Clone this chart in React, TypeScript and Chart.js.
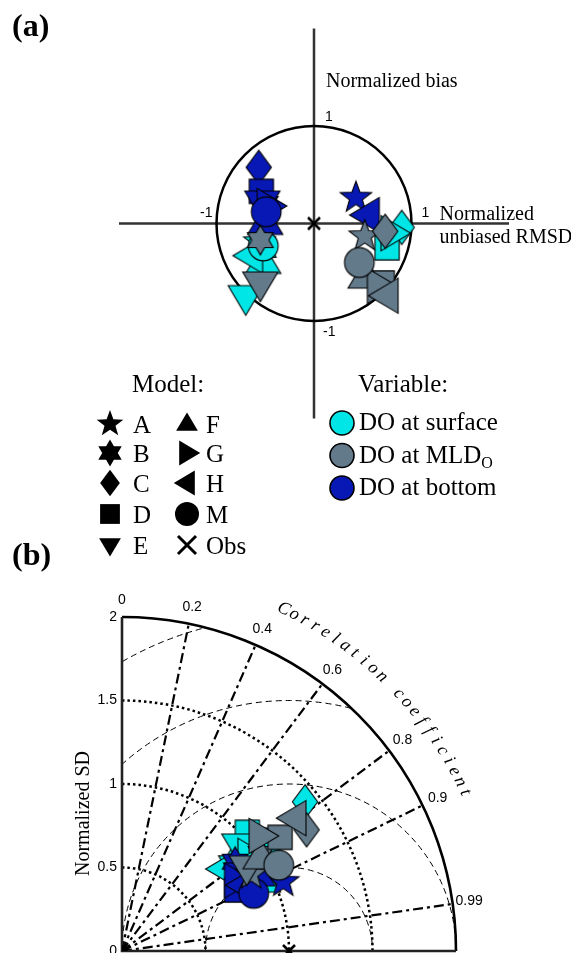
import React, { useEffect, useRef } from "react";
import { Chart, registerables } from "chart.js";

Chart.register(...registerables);

// ---------------- categories ----------------
const MODELS = ["A", "B", "C", "D", "E", "F", "G", "H", "M"];
const MODEL_SHAPES = ["star", "hexagram", "diamond", "square", "triDown", "triUp", "triRight", "triLeft", "circle"];
const VARIABLE_LABELS = ["DO at surface", "DO at MLD", "DO at bottom"];
const VARIABLE_COLORS = ["#00e6e6", "#637a8b", "#0818b4"];

// ---------------- (a) target diagram ----------------
// x: normalized unbiased RMSD, y: normalized bias (order A,B,C,D,E,F,G,H,M)
const TARGET_SURFACE_RMSD = [-0.56, -0.52, 0.9, 0.75, -0.7, -0.52, 0.8, -0.64, -0.52];
const TARGET_SURFACE_BIAS = [-0.19, -0.27, -0.04, -0.25, -0.75, -0.4, -0.1, -0.33, -0.23];
const TARGET_MLD_RMSD = [0.52, -0.55, 0.73, 0.7, -0.55, 0.53, 0.66, 0.75, 0.465];
const TARGET_MLD_BIAS = [-0.13, -0.17, -0.08, -0.61, -0.61, -0.55, -0.64, -0.74, -0.4];
const TARGET_BOTTOM_RMSD = [0.43, -0.5, -0.567, -0.54, -0.53, -0.5, -0.47, 0.557, -0.49];
const TARGET_BOTTOM_BIAS = [0.265, 0.2, 0.576, 0.33, 0.22, 0.0, 0.18, 0.087, 0.12];
const TARGET_OBS = [0, 0];
const TARGET_TICKS = [-1, 1];

// ---------------- (b) Taylor diagram ----------------
// normalized SD and correlation coefficient (order A,B,C,D,E,F,G,H,M)
const TAYLOR_SURFACE_SD = [0.88, 0.84, 1.414, 1.034, 0.947, 0.942, 0.95, 0.785, 1.08];
const TAYLOR_SURFACE_R = [0.8, 0.78, 0.775, 0.726, 0.742, 0.896, 0.8, 0.78, 0.8];
const TAYLOR_MLD_SD = [0.9, 1.015, 1.322, 1.166, 0.901, 1.0, 1.076, 1.306, 1.07];
const TAYLOR_MLD_R = [0.86, 0.82, 0.836, 0.812, 0.829, 0.83, 0.768, 0.793, 0.877];
const TAYLOR_BOTTOM_SD = [1.051, 0.863, 0.82, 0.778, 0.85, 0.931, 0.8, 0.83, 0.861];
const TAYLOR_BOTTOM_R = [0.919, 0.785, 0.86, 0.883, 0.84, 0.872, 0.85, 0.88, 0.916];
const TAYLOR_OBS = [1, 1]; // SD, correlation
const SD_TICKS = [0, 0.5, 1, 1.5, 2];
const SD_ARCS = [0.5, 1, 1.5];
const RMS_CIRCLES = [0.5, 1, 1.5, 2];
const CORR_TICKS = [0, 0.2, 0.4, 0.6, 0.8, 0.9, 0.99];

const SERIF = "'Liberation Serif', 'Times New Roman', serif";
const SANS = "'Liberation Sans', Arial, sans-serif";
const MARKER_SCALE = 1.1;

function tracePath(ctx: CanvasRenderingContext2D, shape: string, s: number) {
  ctx.beginPath();
  const poly = (pts: number[][]) => {
    ctx.moveTo(pts[0][0] * s, pts[0][1] * s);
    for (let i = 1; i < pts.length; i++) ctx.lineTo(pts[i][0] * s, pts[i][1] * s);
    ctx.closePath();
  };
  const starP = (n: number, ro: number, ri: number) => {
    const pts: number[][] = [];
    for (let i = 0; i < 2 * n; i++) {
      const a = -Math.PI / 2 + (i * Math.PI) / n;
      const rr = i % 2 === 0 ? ro : ri;
      pts.push([rr * Math.cos(a), rr * Math.sin(a)]);
    }
    poly(pts);
  };
  switch (shape) {
    case "circle":
      ctx.arc(0, 0, 13.5 * s, 0, Math.PI * 2);
      break;
    case "square":
      poly([[-11, -11], [11, -11], [11, 11], [-11, 11]]);
      break;
    case "diamond":
      poly([[0, -15.5], [11.5, 0], [0, 15.5], [-11.5, 0]]);
      break;
    case "star":
      starP(5, 15, 6.2);
      break;
    case "hexagram":
      starP(6, 13.5, 7.8);
      break;
    case "triDown":
      poly([[-16, -10], [16, -10], [0, 17]]);
      break;
    case "triUp":
      poly([[-16, 10], [16, 10], [0, -17]]);
      break;
    case "triRight":
      poly([[-10, -16], [-10, 16], [17, 0]]);
      break;
    case "triLeft":
      poly([[10, -16], [10, 16], [-17, 0]]);
      break;
  }
}

function makeMarker(shape: string, fill: string): HTMLCanvasElement {
  const c = document.createElement("canvas");
  c.width = 48;
  c.height = 48;
  const g = c.getContext("2d")!;
  g.translate(24, 24);
  tracePath(g, shape, MARKER_SCALE);
  g.fillStyle = fill;
  g.fill();
  g.lineWidth = 1.1;
  g.strokeStyle = "#000";
  g.stroke();
  return c;
}

function makeCross(h: number, lw: number): HTMLCanvasElement {
  const c = document.createElement("canvas");
  c.width = 30;
  c.height = 30;
  const g = c.getContext("2d")!;
  g.translate(15, 15);
  g.strokeStyle = "#000";
  g.lineWidth = lw;
  g.beginPath();
  g.moveTo(-h, -h);
  g.lineTo(h, h);
  g.moveTo(h, -h);
  g.lineTo(-h, h);
  g.stroke();
  return c;
}

const LEGEND_SCALE: Record<string, number> = {
  star: 0.93, hexagram: 1, diamond: 0.86, square: 0.9, triDown: 0.68, triUp: 0.68,
  triRight: 0.78, triLeft: 0.78, circle: 0.89,
};

function drawBlackSymbol(ctx: CanvasRenderingContext2D, shape: string, x: number, y: number) {
  ctx.save();
  ctx.translate(x, y);
  if (shape === "x") {
    ctx.strokeStyle = "#000";
    ctx.lineWidth = 3;
    ctx.beginPath();
    ctx.moveTo(-9, -9);
    ctx.lineTo(9, 9);
    ctx.moveTo(9, -9);
    ctx.lineTo(-9, 9);
    ctx.stroke();
  } else {
    tracePath(ctx, shape, LEGEND_SCALE[shape] || 1);
    ctx.fillStyle = "#000";
    ctx.fill();
  }
  ctx.restore();
}

const targetPlugin = {
  id: "targetDecor",
  beforeDatasetsDraw(chart: any) {
    const { ctx } = chart;
    const px = (v: number) => chart.scales.x.getPixelForValue(v);
    const py = (v: number) => chart.scales.y.getPixelForValue(v);
    const cx = px(0), cy = py(0), R = px(1) - cx;
    ctx.save();
    ctx.strokeStyle = "#333";
    ctx.lineWidth = 2.5;
    ctx.beginPath();
    ctx.moveTo(px(-2), cy);
    ctx.lineTo(px(2), cy);
    ctx.moveTo(cx, py(2));
    ctx.lineTo(cx, py(-2));
    ctx.stroke();
    ctx.strokeStyle = "#000";
    ctx.lineWidth = 2.5;
    ctx.beginPath();
    ctx.arc(cx, cy, R, 0, Math.PI * 2);
    ctx.stroke();

    ctx.fillStyle = "#000";
    ctx.font = `14px ${SANS}`;
    ctx.textBaseline = "middle";
    const [tneg, tpos] = TARGET_TICKS;
    ctx.textAlign = "left";
    ctx.fillText(String(tpos), cx + 11, py(tpos) - 9);
    ctx.fillText(String(tpos), px(tpos) + 10, cy - 10);
    ctx.fillText(String(tneg), cx + 9, py(tneg) + 11);
    ctx.textAlign = "right";
    ctx.fillText(String(tneg), px(tneg) - 4, cy - 10);

    ctx.font = `20px ${SERIF}`;
    ctx.textAlign = "left";
    ctx.textBaseline = "alphabetic";
    ctx.fillText("Normalized bias", cx + 12, py(2) + 58);
    ctx.fillText("Normalized", px(1) + 28, cy - 4);
    ctx.fillText("unbiased RMSD", px(1) + 28, cy + 19);
    ctx.restore();
  },
  afterDraw(chart: any) {
    const { ctx } = chart;
    ctx.save();
    ctx.fillStyle = "#000";
    ctx.font = `bold 32px ${SERIF}`;
    ctx.textAlign = "left";
    ctx.textBaseline = "alphabetic";
    ctx.fillText("(a)", 12, 36);

    // Model legend
    ctx.font = `25px ${SERIF}`;
    ctx.fillText("Model:", 132, 392);
    const baselines = [433, 462, 492, 523, 554];
    const col1 = [0, 1, 2, 3, 4];
    const col2 = [5, 6, 7, 8];
    col1.forEach((mi, r) => {
      drawBlackSymbol(ctx, MODEL_SHAPES[mi], 110, baselines[r] - 9);
      ctx.fillStyle = "#000";
      ctx.font = `25px ${SERIF}`;
      ctx.fillText(MODELS[mi], 133, baselines[r]);
    });
    col2.forEach((mi, r) => {
      drawBlackSymbol(ctx, MODEL_SHAPES[mi], 187, baselines[r] - 9);
      ctx.fillStyle = "#000";
      ctx.font = `25px ${SERIF}`;
      ctx.fillText(MODELS[mi], 206, baselines[r]);
    });
    drawBlackSymbol(ctx, "x", 187, baselines[4] - 9);
    ctx.fillStyle = "#000";
    ctx.font = `25px ${SERIF}`;
    ctx.fillText("Obs", 206, baselines[4]);

    // Variable legend
    ctx.fillText("Variable:", 358, 392);
    const vBase = [430, 462.5, 495];
    VARIABLE_LABELS.forEach((lab, i) => {
      ctx.beginPath();
      ctx.arc(342, vBase[i] - 7, 12, 0, Math.PI * 2);
      ctx.fillStyle = VARIABLE_COLORS[i];
      ctx.fill();
      ctx.lineWidth = 1.6;
      ctx.strokeStyle = "#000";
      ctx.stroke();
      ctx.fillStyle = "#000";
      ctx.font = `25px ${SERIF}`;
      ctx.fillText(lab, 359, vBase[i]);
      if (i === 1) {
        const w = ctx.measureText(lab).width;
        ctx.font = `16px ${SERIF}`;
        ctx.fillText("O", 359 + w, vBase[i] + 5);
      }
    });
    ctx.restore();
  },
};

const taylorPlugin = {
  id: "taylorDecor",
  beforeDatasetsDraw(chart: any) {
    const { ctx } = chart;
    const px = (v: number) => chart.scales.x.getPixelForValue(v);
    const py = (v: number) => chart.scales.y.getPixelForValue(v);
    const ox = px(0), oy = py(0), u = px(1) - ox;
    ctx.save();
    // centred RMS difference circles
    ctx.save();
    ctx.beginPath();
    ctx.moveTo(ox, oy);
    ctx.arc(ox, oy, 2 * u, -Math.PI / 2, 0);
    ctx.closePath();
    ctx.clip();
    ctx.setLineDash([6, 4]);
    ctx.lineWidth = 1;
    ctx.strokeStyle = "#000";
    for (const rr of RMS_CIRCLES) {
      ctx.beginPath();
      ctx.arc(px(1), oy, rr * u, Math.PI, 2 * Math.PI);
      ctx.stroke();
    }
    ctx.restore();

    // SD arcs (dotted)
    ctx.strokeStyle = "#000";
    ctx.setLineDash([2.5, 3]);
    ctx.lineWidth = 2.5;
    for (const sd of SD_ARCS) {
      ctx.beginPath();
      ctx.arc(ox, oy, sd * u, -Math.PI / 2, 0);
      ctx.stroke();
    }
    // correlation spokes
    ctx.setLineDash([10, 4, 3, 4]);
    ctx.lineWidth = 2.2;
    for (const r of CORR_TICKS) {
      if (r === 0) continue;
      ctx.beginPath();
      ctx.moveTo(ox, oy);
      ctx.lineTo(ox + 2 * u * r, oy - 2 * u * Math.sqrt(1 - r * r));
      ctx.stroke();
    }
    // outer arc and axes
    ctx.setLineDash([]);
    ctx.lineWidth = 2.6;
    ctx.beginPath();
    ctx.arc(ox, oy, 2 * u, -Math.PI / 2, 0);
    ctx.stroke();
    ctx.strokeStyle = "#222";
    ctx.beginPath();
    ctx.moveTo(ox, oy - 2 * u);
    ctx.lineTo(ox, oy);
    ctx.lineTo(ox + 2 * u, oy);
    ctx.stroke();
    ctx.fillStyle = "#000";
    ctx.beginPath();
    ctx.moveTo(ox, oy);
    ctx.arc(ox, oy, 6, -Math.PI / 2, 0);
    ctx.closePath();
    ctx.fill();

    // SD tick labels
    ctx.font = `14px ${SANS}`;
    ctx.textAlign = "right";
    ctx.textBaseline = "middle";
    for (const v of SD_TICKS) ctx.fillText(String(v), ox - 5, py(v));
    // correlation labels
    ctx.textAlign = "center";
    for (const r of CORR_TICKS) {
      const rr = 2.1 * u;
      ctx.fillText(String(r), ox + rr * r, oy - rr * Math.sqrt(1 - r * r));
    }
    // curved title
    const title = "Correlation coefficient";
    const a0 = (64.7 * Math.PI) / 180, a1 = (24.8 * Math.PI) / 180, R = 2.265 * u;
    ctx.font = `italic 18px ${SERIF}`;
    for (let i = 0; i < title.length; i++) {
      const th = a0 + ((a1 - a0) * i) / (title.length - 1);
      ctx.save();
      ctx.translate(ox + R * Math.cos(th), oy - R * Math.sin(th));
      ctx.rotate(Math.PI / 2 - th);
      ctx.fillText(title[i], 0, 0);
      ctx.restore();
    }
    // y title
    ctx.save();
    ctx.translate(84, 283.5);
    ctx.rotate(-Math.PI / 2);
    ctx.font = `20px ${SERIF}`;
    ctx.fillText("Normalized SD", 0, 0);
    ctx.restore();

    ctx.font = `bold 32px ${SERIF}`;
    ctx.textAlign = "left";
    ctx.textBaseline = "alphabetic";
    ctx.fillText("(b)", 12, 35);
    ctx.restore();
  },
};

function baseOptions(xmin: number, xmax: number, ymin: number, ymax: number, padding: any) {
  return {
    responsive: false,
    animation: false as const,
    devicePixelRatio: 1,
    events: [] as any[],
    layout: { padding, autoPadding: false },
    plugins: { legend: { display: false }, tooltip: { enabled: false } },
    scales: {
      x: { type: "linear" as const, min: xmin, max: xmax, display: false },
      y: { type: "linear" as const, min: ymin, max: ymax, display: false },
    },
  };
}

export default function App() {
  const aRef = useRef<HTMLCanvasElement>(null);
  const bRef = useRef<HTMLCanvasElement>(null);

  useEffect(() => {
    const markers = VARIABLE_COLORS.map((col) => MODEL_SHAPES.map((s) => makeMarker(s, col)));
    const orders = [3, 1, 2];
    const tx = [TARGET_SURFACE_RMSD, TARGET_MLD_RMSD, TARGET_BOTTOM_RMSD];
    const ty = [TARGET_SURFACE_BIAS, TARGET_MLD_BIAS, TARGET_BOTTOM_BIAS];
    const targetSets: any[] = VARIABLE_LABELS.map((lab, v) => ({
      label: lab,
      data: MODELS.map((_, i) => ({ x: tx[v][i], y: ty[v][i] })),
      pointStyle: markers[v],
      pointRadius: 12,
      order: orders[v],
      clip: false,
    }));
    targetSets.push({
      label: "Obs",
      data: [{ x: TARGET_OBS[0], y: TARGET_OBS[1] }],
      pointStyle: makeCross(6, 2.6),
      pointRadius: 8,
      order: 0,
      clip: false,
    });
    const chartA = new Chart(aRef.current!, {
      type: "scatter",
      data: { datasets: targetSets },
      options: baseOptions(-1, 1, -1, 1, { left: 216.5, right: 159.5, top: 126, bottom: 259 }) as any,
      plugins: [targetPlugin],
    });

    const tsd = [TAYLOR_SURFACE_SD, TAYLOR_MLD_SD, TAYLOR_BOTTOM_SD];
    const tr = [TAYLOR_SURFACE_R, TAYLOR_MLD_R, TAYLOR_BOTTOM_R];
    const taylorSets: any[] = VARIABLE_LABELS.map((lab, v) => ({
      label: lab,
      data: MODELS.map((_, i) => ({
        x: tsd[v][i] * tr[v][i],
        y: tsd[v][i] * Math.sqrt(1 - tr[v][i] * tr[v][i]),
      })),
      pointStyle: markers[v],
      pointRadius: 12,
      order: orders[v],
      clip: false,
    }));
    taylorSets.push({
      label: "Obs",
      data: [{ x: TAYLOR_OBS[0] * TAYLOR_OBS[1], y: TAYLOR_OBS[0] * Math.sqrt(1 - TAYLOR_OBS[1] ** 2) }],
      pointStyle: makeCross(6, 2.6),
      pointRadius: 8,
      order: 0,
      clip: false,
    });
    const chartB = new Chart(bRef.current!, {
      type: "scatter",
      data: { datasets: taylorSets },
      options: baseOptions(0, 2, 0, 2, { left: 122, right: 115, top: 87, bottom: 2 }) as any,
      plugins: [taylorPlugin],
    });
    return () => {
      chartA.destroy();
      chartB.destroy();
    };
  }, []);

  return (
    <div style={{ position: "absolute", left: 0, top: 0, width: 571, height: 953, background: "#fff" }}>
      <canvas ref={aRef} width={571} height={580} style={{ position: "absolute", left: 0, top: 0, width: 571, height: 580 }} />
      <canvas ref={bRef} width={571} height={423} style={{ position: "absolute", left: 0, top: 530, width: 571, height: 423 }} />
    </div>
  );
}
